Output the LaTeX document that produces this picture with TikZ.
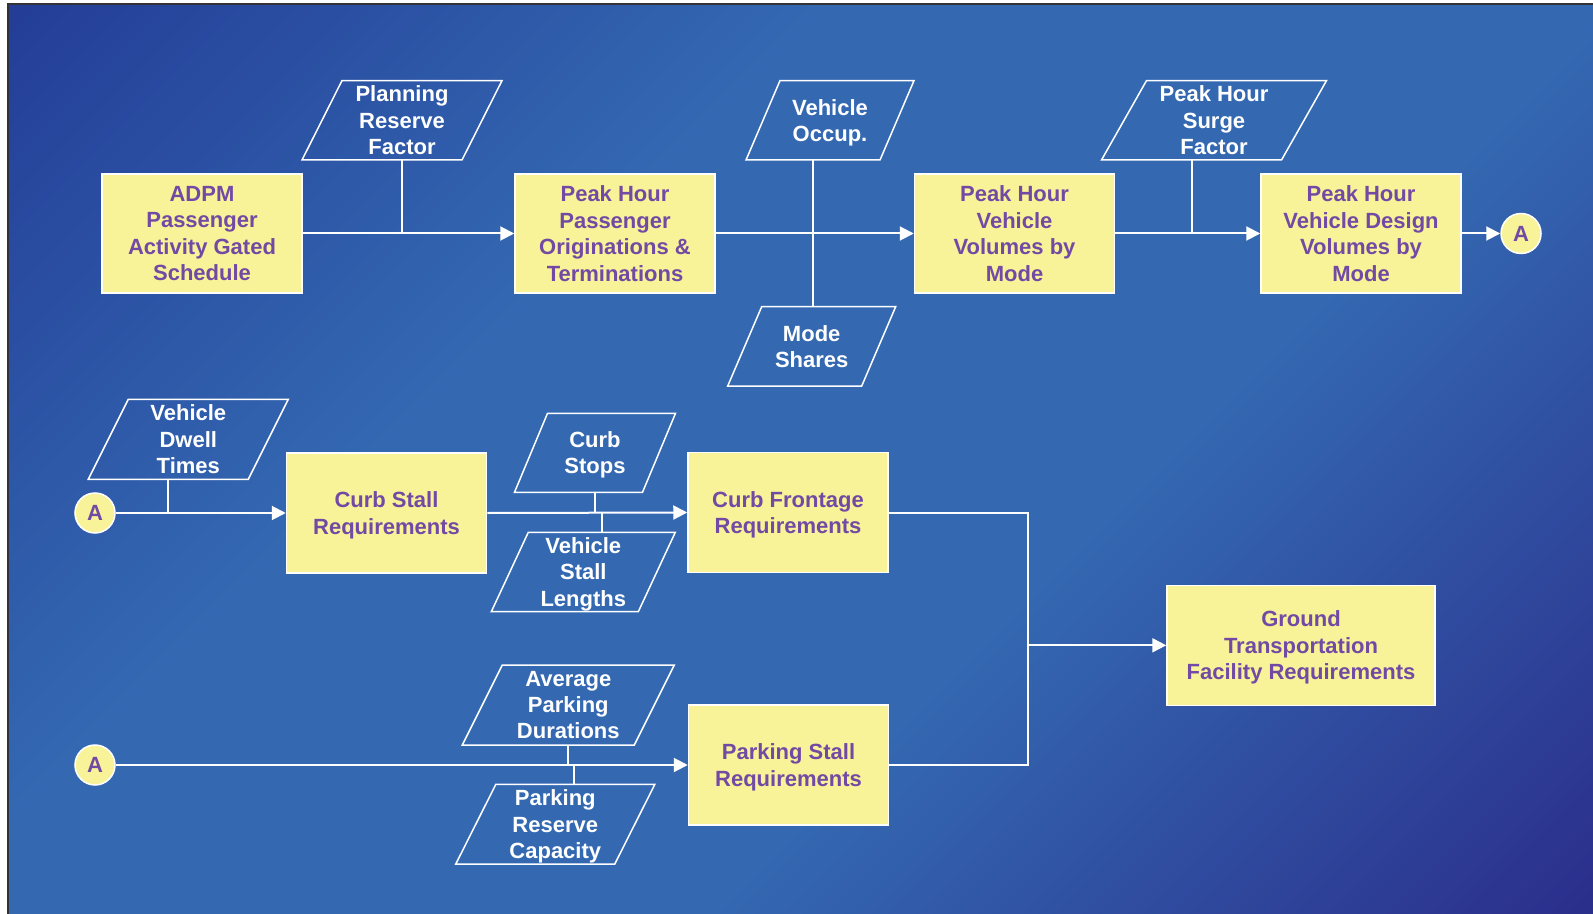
\documentclass[tikz,border=0pt]{standalone}
\usepackage{fontspec}
\setmainfont{Liberation Sans}
\usetikzlibrary{arrows.meta}
\definecolor{bgA}{RGB}{36,62,152}
\definecolor{bgB}{RGB}{52,105,178}
\definecolor{bgC}{RGB}{43,47,140}
\definecolor{framecol}{RGB}{50,50,55}
\definecolor{boxyellow}{RGB}{248,242,152}
\definecolor{boxpurple}{RGB}{114,74,164}
\pgfdeclareverticalshading{bgshade}{100bp}{color(0bp)=(bgC); color(15bp)=(bgC); color(40bp)=(bgB); color(62bp)=(bgB); color(85bp)=(bgA); color(100bp)=(bgA)}
\newcommand\ioshape[7]{%
  \node[ptext] (#1) at (#2,#3) {#7};
  \draw[pshape] (#2-#4-#5,#3+#6) -- (#2+#4-#5,#3+#6) -- (#2+#4+#5,#3-#6) -- (#2-#4+#5,#3-#6) -- cycle;
  \coordinate (#1-bot) at (#2,#3+#6);
  \coordinate (#1-top) at (#2,#3-#6);
}
\begin{document}
\begin{tikzpicture}[x=0.5pt,y=-0.5pt,
  txt/.style={font=\bfseries\fontsize{11pt}{13.2pt}\selectfont, align=center, inner sep=0pt, text depth=-1.2pt},
  box/.style={txt, rectangle, fill=boxyellow, draw=white, line width=0.75pt, text=boxpurple, minimum width=100pt, minimum height=59.5pt},
  ptext/.style={txt, text=white},
  pshape/.style={draw=white, line width=0.75pt},
  conn/.style={draw=white, line width=1pt},
  arr/.style={conn, -{Triangle[length=7pt,width=7pt]}},
  conA/.style={font=\bfseries\fontsize{11pt}{13.2pt}\selectfont, inner sep=0pt, circle, fill=boxyellow, draw=white, line width=0.75pt, text=boxpurple, minimum size=20pt}]
\useasboundingbox (0,0) rectangle (1593,914);
\fill[white] (0,0) rectangle (1593,914);
\shade[shading=bgshade, shading angle=45] (8,4) rectangle (1593,914);
\draw[framecol, line width=1pt] (8,914) -- (8,4) -- (1593,4);

% top row boxes
\node[box] (adpm) at (202,233.5) {ADPM\\Passenger\\Activity Gated\\Schedule};
\node[box] (phpot) at (615,233.5) {Peak Hour\\Passenger\\Originations \&\\Terminations};
\node[box] (phvv) at (1014.5,233.5) {Peak Hour\\Vehicle\\Volumes by\\Mode};
\node[box] (phvdv) at (1361,233.5) {Peak Hour\\Vehicle Design\\Volumes by\\Mode};
\node[conA] (a1) at (1521,233.5) {A};

% top inputs
\ioshape{pr}{402}{120.3}{80}{20}{39.7}{Planning\\Reserve\\Factor}
\ioshape{vo}{830}{120.3}{67}{17}{39.7}{Vehicle\\Occup.}
\ioshape{ms}{811.7}{346.3}{67}{17}{39.7}{Mode\\Shares}
\ioshape{sf}{1214}{120.3}{90}{22.5}{39.7}{Peak Hour\\Surge\\Factor}

% junctions top
\coordinate (j1) at (402,233.5);
\coordinate (j2) at (813,233.5);
\coordinate (j3) at (1192,233.5);

\draw[arr] (adpm.east) -- (phpot.west);
\draw[arr] (phpot.east) -- (phvv.west);
\draw[arr] (phvv.east) -- (phvdv.west);
\draw[arr] (phvdv.east) -- (a1.west);
\draw[conn] (pr-bot) -- (j1);
\draw[conn] (vo-bot -| j2) -- (j2) -- (ms-top -| j2);
\draw[conn] (sf-bot -| j3) -- (j3);

% second row
\node[conA] (a2) at (95,513) {A};
\node[box, minimum height=60pt] (csr) at (386.5,513) {Curb Stall\\Requirements};
\node[box, minimum height=60pt] (cfr) at (788,512.5) {Curb Frontage\\Requirements};
\ioshape{vdt}{188.3}{439.3}{80}{20}{40}{Vehicle\\Dwell\\Times}
\ioshape{cs}{595}{452.8}{64}{16.5}{39.5}{Curb\\Stops}
\ioshape{vsl}{583.3}{572}{73.5}{18.5}{39.7}{Vehicle\\Stall\\Lengths}
\coordinate (j4) at (168,513);
\coordinate (j5) at (595,513);
\coordinate (j6) at (602,513);
\draw[arr] (a2.east) -- (csr.west);
\draw[arr] (csr.east) -- (cfr.west);
\draw[conn] (vdt-bot -| j4) -- (j4);
\draw[conn] (cs-bot) -- (j5);
\draw[conn] (j6) -- (vsl-top -| j6);

% third row
\node[conA] (a3) at (95,765) {A};
\node[box, minimum height=60pt] (psr) at (788.5,765) {Parking Stall\\Requirements};
\ioshape{apd}{568.3}{705}{86}{20}{40}{Average\\Parking\\Durations}
\ioshape{prc}{555.3}{824.2}{79.5}{20}{39.8}{Parking\\Reserve\\Capacity}
\coordinate (j7) at (568.3,765);
\coordinate (j8) at (574.3,765);
\draw[arr] (a3.east) -- (psr.west);
\draw[conn] (apd-bot) -- (j7);
\draw[conn] (j8) -- (prc-top -| j8);

% result
\node[box, minimum width=134pt, minimum height=60pt] (gtfr) at (1301,645.3) {Ground\\Transportation\\Facility Requirements};
\coordinate (j9) at (1028,512.5);
\coordinate (j10) at (1028,765);
\coordinate (j11) at (1028,645.3);
\draw[conn] (cfr.east) -- (j9) -- (j10) -- (psr.east);
\draw[arr] (j11) -- (gtfr.west);
\end{tikzpicture}
\end{document}
